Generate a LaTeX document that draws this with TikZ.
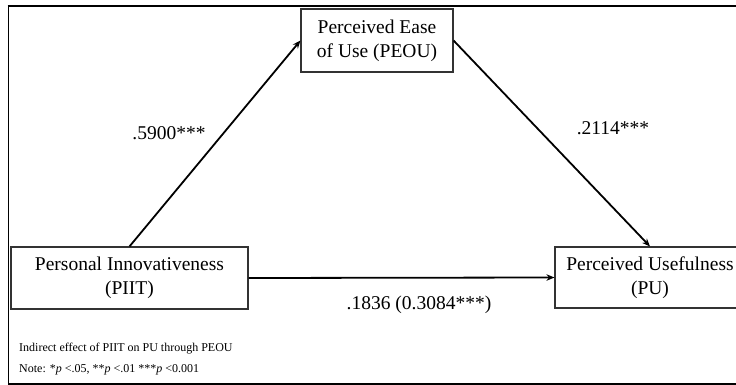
\documentclass[tikz,border=0pt]{standalone}
\usepackage{fontspec}
\setmainfont{Liberation Serif}
\usetikzlibrary{arrows.meta}
\begin{document}
\begin{tikzpicture}[x=1pt,y=-1pt,
  construct/.style={draw=black!80,line width=1.1pt,rectangle,align=center,
    font=\fontsize{19.5}{24}\selectfont,inner sep=0pt},
  path/.style={line width=1.8pt,-{Stealth[length=8pt,width=6.5pt]}},
  coef/.style={font=\fontsize{19.5}{24}\selectfont,inner sep=1pt},
  note/.style={font=\fontsize{12}{14}\selectfont,anchor=west,inner sep=0pt}]
\useasboundingbox (0,0) rectangle (736,385);
\begin{scope}
\clip (0,0) rectangle (736,385);
% outer frame
\draw[line width=2.4pt] (7.5,6) -- (760,6);
\draw[line width=1.6pt] (8.5,6) -- (8.5,384) -- (760,384);
% constructs
\node[construct,minimum width=152pt,minimum height=63pt] (peou) at (377,40.5)
  {Perceived Ease\\of Use (PEOU)};
\node[construct,minimum width=237pt,minimum height=62pt] (piit) at (129.5,278)
  {Personal Innovativeness\\(PIIT)};
\node[construct,minimum width=190pt,minimum height=61pt] (pu) at (650,277.5)
  {Perceived Usefulness\\(PU)};
% paths
\draw[path] (piit.north) -- (peou.west);
\draw[path] (peou.east) -- (pu.north);
\draw[path] (piit.east) -- (pu.west);
% coefficients
\node[coef] (a) at (169,133) {.5900***};
\node[coef] (b) at (613,128) {.2114***};
\node[coef] (c) at (419,305) {.1836 (0.3084***)};
% notes
\node[note] (n1) at (19,349) {Indirect effect of PIIT on PU through PEOU};
\node[note] (n2) at (19,370) {Note: *\textit{p} <.05, **\textit{p} <.01 ***\textit{p} <0.001};
\end{scope}
\end{tikzpicture}
\end{document}
